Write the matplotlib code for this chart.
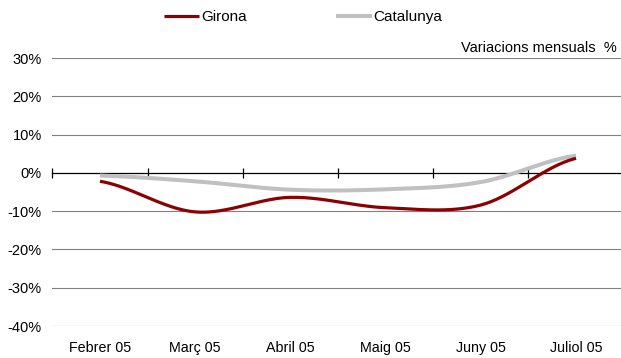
import numpy as np
import matplotlib
matplotlib.use("Agg")
import matplotlib.pyplot as plt

plt.rcParams['font.family'] = ['Liberation Sans', 'DejaVu Sans']

categories = ["Febrer 05", "Març 05", "Abril 05", "Maig 05", "Juny 05", "Juliol 05"]
girona = [-2.2, -10.2, -6.4, -9.1, -8.4, 3.8]
catalunya = [-0.7, -2.2, -4.4, -4.3, -2.4, 4.5]
yticks = [-40, -30, -20, -10, 0, 10, 20, 30]


def smooth(y, n=40):
    """Catmull-Rom smoothing (like Excel's smoothed line)."""
    y = np.asarray(y, float)
    p = np.concatenate([[y[0]], y, [y[-1]]])
    xs, ys = [], []
    for i in range(len(y) - 1):
        p0, p1, p2, p3 = p[i], p[i + 1], p[i + 2], p[i + 3]
        t = np.linspace(0, 1, n, endpoint=(i == len(y) - 2))
        v = 0.5 * ((2 * p1) + (-p0 + p2) * t + (2 * p0 - 5 * p1 + 4 * p2 - p3) * t ** 2
                   + (-p0 + 3 * p1 - 3 * p2 + p3) * t ** 3)
        xs.append(i + t)
        ys.append(v)
    return np.concatenate(xs), np.concatenate(ys)


W, H = 621, 358
fig = plt.figure(figsize=(W / 100, H / 100), dpi=100)
left = 52.4 / W
bottom = 1 - 326 / H
top = 1 - 58 / H
ax = fig.add_axes([left, bottom, 1 - left, top - bottom])

cat_w = 95.2
ax.set_xlim(-0.5, -0.5 + (W - 52.4) / cat_w)
ax.set_ylim(-40, 30)

for v in yticks:
    if v != 0:
        ax.axhline(v, color='#808080', lw=0.8, zorder=1)

xg, yg = smooth(girona)
xc, yc = smooth(catalunya)
ax.plot(xc, yc, color='#C0C0C0', lw=2.9, solid_capstyle='butt', label='Catalunya', zorder=3)
ax.plot(xg, yg, color='#8B0000', lw=2.3, solid_capstyle='butt', label='Girona', zorder=4)

# axes styling
for s in ['top', 'right', 'left']:
    ax.spines[s].set_visible(False)
ax.spines['bottom'].set_position(('data', 0))
ax.spines['bottom'].set_color('black')
ax.spines['bottom'].set_linewidth(0.9)
ax.spines['bottom'].set_zorder(2)
bounds = np.arange(-0.5, len(categories) - 0.5, 1.0)
ax.set_xticks(bounds)
ax.set_xticklabels([])
ax.tick_params(axis='x', direction='inout', length=7, width=0.9, color='black')

ax.set_yticks(yticks)
ax.set_yticklabels([f"{v}%" for v in yticks], fontsize=10.5)
ax.tick_params(axis='y', length=0, pad=7.5)

secx = ax.secondary_xaxis(0)
secx.set_xticks(range(len(categories)))
secx.set_xticklabels(categories, fontsize=10.3)
secx.tick_params(length=0, pad=11)
secx.spines['bottom'].set_visible(False)

fig.text(617 / W, 1 - 48 / H, "Variacions mensuals  %", ha='right', va='center', fontsize=10.5)

h, l = ax.get_legend_handles_labels()
fig.legend(h[::-1], l[::-1], loc='center', bbox_to_anchor=(303 / W, 1 - 17 / H), ncol=2,
           frameon=False, fontsize=11, handlelength=2.35, columnspacing=5.8, handletextpad=0.13)

fig.savefig("out.png", dpi=100)
